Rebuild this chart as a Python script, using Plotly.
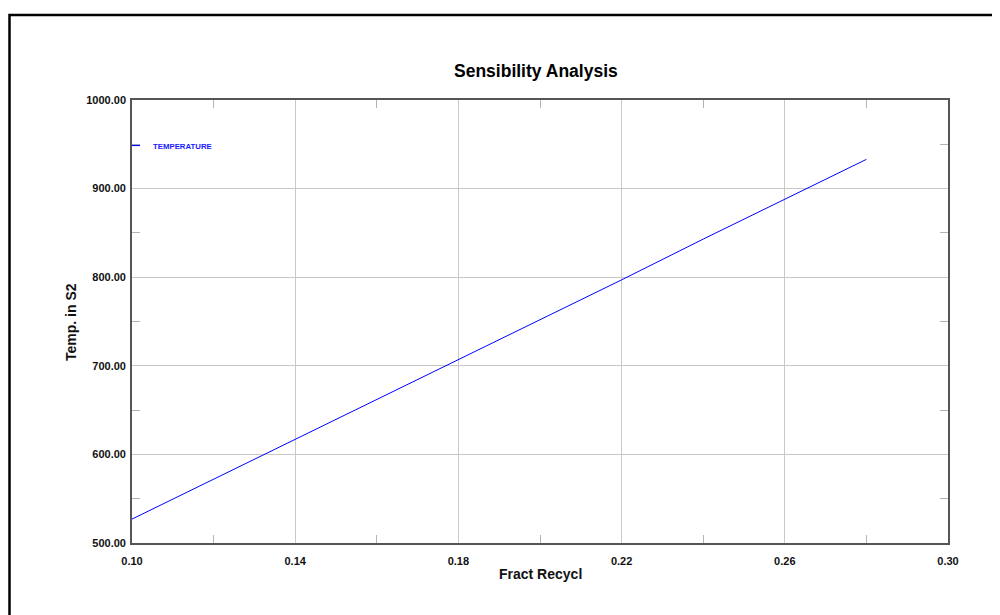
import plotly.graph_objects as go

# Data
fract_recycl = [0.10, 0.12, 0.14, 0.16, 0.18, 0.20, 0.22, 0.24, 0.26, 0.28]
temperature = [527, 572, 617, 662, 707, 752, 797, 843, 888, 933]

series_name = "TEMPERATURE"
chart_title = "Sensibility Analysis"
x_title = "Fract Recycl"
y_title = "Temp. in S2"
x_range = [0.10, 0.30]
y_range = [500, 1000]

FONT = "Liberation Sans, Arial, Helvetica, sans-serif"
PAGE_OFF = 8  # default body margin of the html page
W, H = 1000 - PAGE_OFF, 615 - PAGE_OFF
ML, MR, MT, MB = 124, 52, 92, 72
PW, PH = W - ML - MR, H - MT - MB


def px_to_paper_x(px):
    # px: screen x coordinate
    return (px - PAGE_OFF - ML) / PW


def px_to_paper_y(py):
    # py: screen y coordinate
    return (H - MB - (py - PAGE_OFF)) / PH


fig = go.Figure()
fig.add_trace(go.Scatter(
    x=fract_recycl, y=temperature, mode="lines", name=series_name,
    line=dict(color="#0000ff", width=1), showlegend=False,
))

axis_common = dict(
    showgrid=True, gridcolor="#c8c8c8", gridwidth=1,
    zeroline=False, showline=True, linecolor="#555555", linewidth=1.6,
    mirror="allticks", ticks="",
    tickfont=dict(family=FONT, size=11, color="#111111", weight="bold"),
    tickformat=".2f",
)

fig.update_xaxes(
    range=x_range, tick0=0.10, dtick=0.04,
    minor=dict(dtick=0.02, ticks="inside", ticklen=8, tickcolor="#b4b4b4", tickwidth=1, showgrid=False),
    ticklabelstandoff=7,
    **axis_common,
)
fig.update_yaxes(
    range=y_range, tick0=500, dtick=100,
    minor=dict(dtick=50, ticks="inside", ticklen=8, tickcolor="#b4b4b4", tickwidth=1, showgrid=False),
    ticklabelstandoff=2,
    **axis_common,
)

annotations = [
    dict(text=chart_title, xref="paper", yref="paper",
         x=px_to_paper_x(536), y=px_to_paper_y(71), xanchor="center", yanchor="middle",
         showarrow=False, font=dict(family=FONT, size=17.5, color="#000000", weight="bold")),
    dict(text=x_title, xref="paper", yref="paper",
         x=px_to_paper_x(540), y=px_to_paper_y(574), xanchor="center", yanchor="middle",
         showarrow=False, font=dict(family=FONT, size=14, color="#111111", weight="bold")),
    dict(text=y_title, xref="paper", yref="paper", textangle=-90,
         x=px_to_paper_x(71), y=px_to_paper_y(322), xanchor="center", yanchor="middle",
         showarrow=False, font=dict(family=FONT, size=14, color="#111111", weight="bold")),
    dict(text=series_name, xref="paper", yref="paper",
         x=px_to_paper_x(151), y=px_to_paper_y(146), xanchor="left", yanchor="middle",
         showarrow=False, font=dict(family=FONT, size=7.8, color="#1a1aff", weight="bold")),
]

shapes = [
    # outer frame
    dict(type="rect", xref="paper", yref="paper",
         x0=px_to_paper_x(9.5), x1=px_to_paper_x(1010), y0=px_to_paper_y(625), y1=px_to_paper_y(15),
         line=dict(color="#000000", width=2.5), fillcolor="rgba(0,0,0,0)", layer="above"),
    # legend sample line
    dict(type="line", xref="paper", yref="paper",
         x0=px_to_paper_x(132), x1=px_to_paper_x(140), y0=px_to_paper_y(145.5), y1=px_to_paper_y(145.5),
         line=dict(color="#0000ff", width=1.2), layer="above"),
]

fig.update_layout(
    width=W, height=H,
    margin=dict(l=ML, r=MR, t=MT, b=MB, pad=0),
    paper_bgcolor="#ffffff", plot_bgcolor="#ffffff",
    annotations=annotations, shapes=shapes,
    showlegend=False,
)

fig.write_html("out.html")
